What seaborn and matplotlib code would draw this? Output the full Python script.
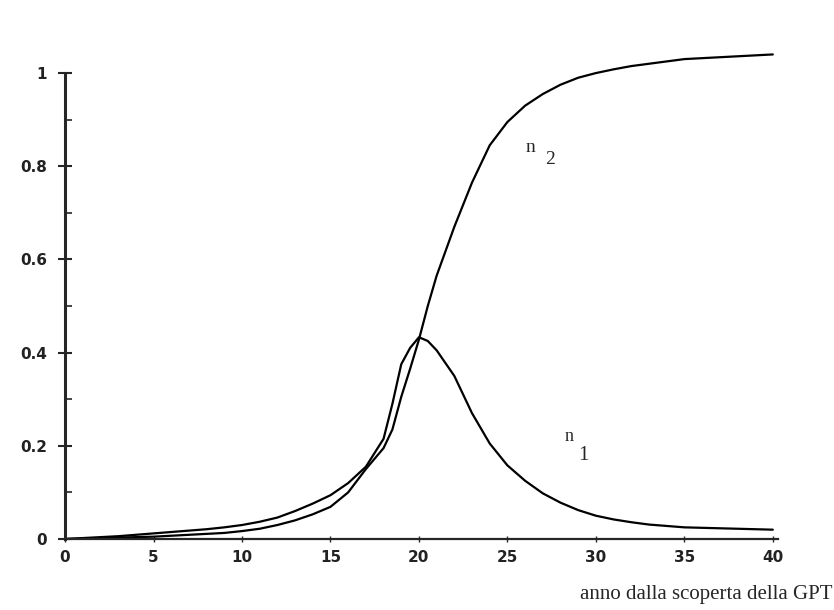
import matplotlib
matplotlib.use("Agg")
import matplotlib.pyplot as plt
import seaborn as sns
import pandas as pd
from matplotlib.ticker import MultipleLocator

# ---- data ----
years = [0, 1, 2, 3, 4, 5, 6, 7, 8, 9, 10, 11, 12, 13, 14, 15, 16, 17, 18, 18.5,
         19, 19.5, 20, 20.5, 21, 22, 23, 24, 25, 26, 27, 28, 29, 30, 31, 32, 33,
         34, 35, 36, 37, 38, 39, 40]
n1 = [0.0, 0.002, 0.004, 0.006, 0.009, 0.012, 0.015, 0.018, 0.021, 0.025, 0.030,
      0.037, 0.046, 0.060, 0.076, 0.094, 0.120, 0.155, 0.215, 0.290,
      0.375, 0.410, 0.433, 0.425, 0.405, 0.350, 0.270, 0.205, 0.158, 0.125,
      0.098, 0.078, 0.062, 0.050, 0.042, 0.036, 0.031, 0.028, 0.025, 0.024,
      0.023, 0.022, 0.021, 0.020]
n2 = [0.0, 0.001, 0.002, 0.003, 0.004, 0.005, 0.007, 0.009, 0.011, 0.013, 0.017,
      0.022, 0.030, 0.040, 0.053, 0.069, 0.100, 0.150, 0.195, 0.235,
      0.305, 0.365, 0.428, 0.500, 0.565, 0.670, 0.765, 0.845, 0.895, 0.930,
      0.955, 0.975, 0.990, 1.000, 1.008, 1.015, 1.020, 1.025, 1.030, 1.032,
      1.034, 1.036, 1.038, 1.040]
x_ticks = [0, 5, 10, 15, 20, 25, 30, 35, 40]
y_ticks = [0, 0.2, 0.4, 0.6, 0.8, 1.0]
y_tick_labels = ["0", "0.2", "0.4", "0.6", "0.8", "1"]
x_label = "anno dalla scoperta della GPT"

df = pd.DataFrame({"anno": years + years,
                   "valore": n1 + n2,
                   "serie": ["n1"] * len(years) + ["n2"] * len(years)})

sns.set_style("ticks")
fig = plt.figure(figsize=(8.34, 6.10), dpi=100)
ax = fig.add_axes([0.078, 0.1164, 0.855, 0.802])

sns.lineplot(data=df, x="anno", y="valore", units="serie", estimator=None,
             color="black", linewidth=1.6, ax=ax)

ax.set_xlim(0, 40.3)
ax.set_ylim(0, 1.05)
ax.spines["top"].set_visible(False)
ax.spines["right"].set_visible(False)
ax.spines["left"].set_linewidth(2.2)
ax.spines["bottom"].set_linewidth(1.6)
ax.spines["left"].set_bounds(0, 1.0)
ax.spines["bottom"].set_bounds(0, 40.3)

ax.set_xticks(x_ticks)
ax.set_xticklabels([str(t) for t in x_ticks])
ax.set_yticks(y_ticks)
ax.set_yticklabels(y_tick_labels)
ax.yaxis.set_minor_locator(MultipleLocator(0.1))
ax.tick_params(axis="y", which="major", direction="inout", length=10, width=1.5,
               labelsize=11, pad=8)
ax.tick_params(axis="y", which="minor", direction="in", length=5, width=1.2)
ax.tick_params(axis="x", which="major", direction="inout", length=4, width=1.0,
               labelsize=11, pad=6)
for lab in ax.get_xticklabels() + ax.get_yticklabels():
    lab.set_fontweight("bold")
    lab.set_color("#222222")

ax.set_xlabel("")
ax.set_ylabel("")

# curve labels
ax.text(26.3, 0.84, "n", fontsize=14, family="Liberation Serif", ha="center", va="center")
ax.text(27.4, 0.815, "2", fontsize=14, family="Liberation Serif", ha="center", va="center")
ax.text(28.5, 0.219, "n", fontsize=13, family="Liberation Serif", ha="center", va="center")
ax.text(29.3, 0.18, "1", fontsize=15, family="Liberation Serif", ha="center", va="center")

fig.text(0.998, 1 - 595 / 610, x_label, fontsize=15, family="Liberation Serif",
         ha="right", va="center")

fig.savefig("out.png", dpi=100, facecolor="white")
